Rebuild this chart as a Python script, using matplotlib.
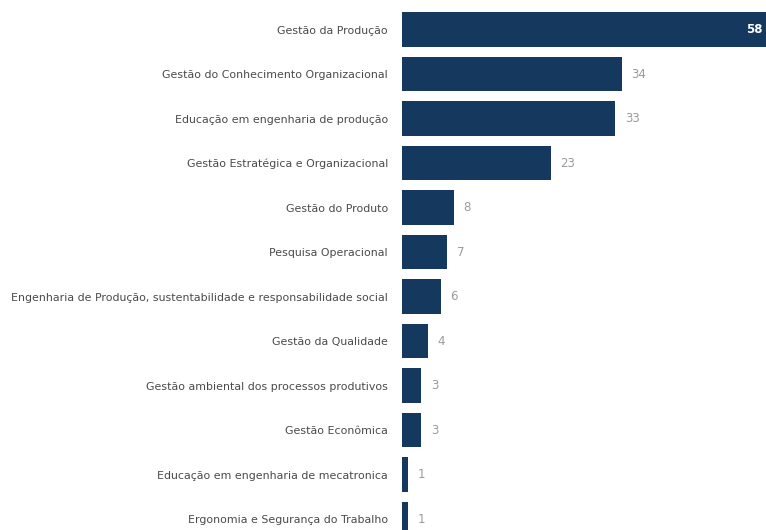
import matplotlib
matplotlib.use("Agg")
import matplotlib.pyplot as plt

categories = [
    "Gestão da Produção",
    "Gestão do Conhecimento Organizacional",
    "Educação em engenharia de produção",
    "Gestão Estratégica e Organizacional",
    "Gestão do Produto",
    "Pesquisa Operacional",
    "Engenharia de Produção, sustentabilidade e responsabilidade social",
    "Gestão da Qualidade",
    "Gestão ambiental dos processos produtivos",
    "Gestão Econômica",
    "Educação em engenharia de mecatronica",
    "Ergonomia e Segurança do Trabalho",
]
counts = [58, 34, 33, 23, 8, 7, 6, 4, 3, 3, 1, 1]

BAR_COLOR = "#15385f"
W, H = 766, 530

fig = plt.figure(figsize=(W / 100, H / 100), dpi=100)
# axes run slightly past the right border, so the longest bar is cut off
left, right = 402 / W, 777 / W
top, bottom = 1 - 7.3 / H, 1 - 541.3 / H
ax = fig.add_axes([left, bottom, right - left, top - bottom])

ypos = list(range(len(categories)))
ax.barh(ypos, counts, height=0.77, color=BAR_COLOR)
ax.set_xlim(0, max(counts))
ax.set_ylim(len(categories) - 0.5, -0.5)

ax.set_yticks(ypos)
ax.set_yticklabels(categories, fontsize=7.95, color="#4a4a4a")
ax.tick_params(axis="y", length=0, pad=10)
ax.set_xticks([])
for s in ax.spines.values():
    s.set_visible(False)

vmax = max(counts)
for y, v in zip(ypos, counts):
    if v == vmax:
        ax.text(v - 2.3, y, str(v), ha="right", va="center", fontsize=8.5,
                color="white", fontweight="bold")
    else:
        ax.text(v + 1.5, y, str(v), ha="left", va="center", fontsize=8.5,
                color="#9a9a9a")

fig.savefig("out.png", dpi=100)
